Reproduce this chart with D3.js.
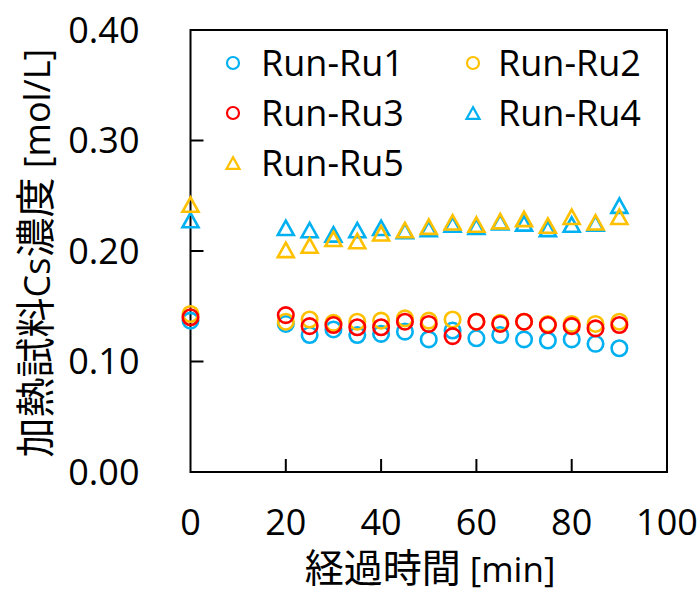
<!DOCTYPE html>
<html>
<head>
<meta charset="utf-8">
<script src="https://cdn.jsdelivr.net/npm/d3@7"></script>
<style>
  body { margin: 0; background: #fff; }
  svg { display: block; }
  text { font-family: "Open Sans", "Noto Sans CJK JP", sans-serif; fill: #000; }
</style>
</head>
<body>
<div id="chart"></div>
<script>
// Sampling times [min]
const times = [0, 20, 25, 30, 35, 40, 45, 50, 55, 60, 65, 70, 75, 80, 85, 90];

// Cs concentration [mol/L] per run
const ru1 = [0.137, 0.134, 0.124, 0.129, 0.124, 0.125, 0.127, 0.120, 0.128, 0.121, 0.124, 0.120, 0.119, 0.120, 0.116, 0.112];
const ru2 = [0.143, 0.136, 0.138, 0.135, 0.136, 0.137, 0.139, 0.137, 0.138, 0.136, 0.135, 0.136, 0.134, 0.134, 0.134, 0.136];
const ru3 = [0.140, 0.142, 0.132, 0.133, 0.131, 0.131, 0.136, 0.134, 0.123, 0.136, 0.134, 0.136, 0.133, 0.132, 0.130, 0.133];
const ru4 = [0.228, 0.221, 0.219, 0.215, 0.219, 0.221, 0.218, 0.220, 0.224, 0.222, 0.226, 0.225, 0.220, 0.224, 0.225, 0.241];
const ru5 = [0.242, 0.201, 0.205, 0.211, 0.209, 0.216, 0.219, 0.222, 0.226, 0.224, 0.227, 0.229, 0.223, 0.231, 0.226, 0.231];

const seriesNames = ["Run-Ru1", "Run-Ru2", "Run-Ru3", "Run-Ru4", "Run-Ru5"];
const xTicks = [0, 20, 40, 60, 80, 100];
const yTicks = [0, 0.1, 0.2, 0.3, 0.4];

const series = [
    { name: seriesNames[0], values: ru1, color: "#00B0F0", shape: "circle" },
    { name: seriesNames[1], values: ru2, color: "#FFC000", shape: "circle" },
    { name: seriesNames[2], values: ru3, color: "#FF0000", shape: "circle" },
    { name: seriesNames[3], values: ru4, color: "#00B0F0", shape: "triangle" },
    { name: seriesNames[4], values: ru5, color: "#FFC000", shape: "triangle" }
];

// Dimensions
const W = 699, H = 591;
const margin = { top: 30, right: 32, bottom: 119, left: 190.5 };
const width = W - margin.left - margin.right;
const height = H - margin.top - margin.bottom;

const svg = d3.select("#chart")
    .append("svg")
    .attr("width", W)
    .attr("height", H);

const g = svg.append("g")
    .attr("transform", `translate(${margin.left},${margin.top})`);

const x = d3.scaleLinear().domain([0, 100]).range([0, width]);
const y = d3.scaleLinear().domain([0, 0.4]).range([height, 0]);

// Inner ticks
g.selectAll(".ytick")
    .data(yTicks.slice(1, -1))
    .enter()
    .append("line")
    .attr("x1", 0).attr("x2", 13)
    .attr("y1", d => y(d)).attr("y2", d => y(d))
    .style("stroke", "#000").style("stroke-width", 2);

g.selectAll(".xtick")
    .data(xTicks.slice(1, -1))
    .enter()
    .append("line")
    .attr("x1", d => x(d)).attr("x2", d => x(d))
    .attr("y1", height).attr("y2", height - 13)
    .style("stroke", "#000").style("stroke-width", 2);

// Frame
g.append("rect")
    .attr("width", width)
    .attr("height", height)
    .style("fill", "none")
    .style("stroke", "#000")
    .style("stroke-width", 2);

// Tick labels
g.selectAll(".ylab")
    .data(yTicks)
    .enter()
    .append("text")
    .attr("x", -51)
    .attr("y", d => y(d))
    .attr("dy", "0.36em")
    .style("text-anchor", "end")
    .style("font-size", "36px")
    .text(d => d.toFixed(2));

g.selectAll(".xlab")
    .data(xTicks)
    .enter()
    .append("text")
    .attr("x", d => x(d))
    .attr("y", height + 63)
    .style("text-anchor", "middle")
    .style("font-size", "36px")
    .text(d => d);

// Axis titles
const yTitle = svg.append("text")
    .attr("transform", `translate(50,253) rotate(-90)`)
    .style("text-anchor", "middle")
    .style("font-size", "40px");
yTitle.append("tspan").style("font-family", "Noto Sans CJK JP").text("加熱試料");
yTitle.append("tspan").style("font-size", "36px").text("Cs");
yTitle.append("tspan").style("font-family", "Noto Sans CJK JP").text("濃度");
yTitle.append("tspan").style("font-size", "36px").text(" [mol/L]");

const xTitle = svg.append("text")
    .attr("x", 430)
    .attr("y", 582)
    .style("text-anchor", "middle")
    .style("font-size", "39px");
xTitle.append("tspan").style("font-family", "Noto Sans CJK JP").text("経過時間");
xTitle.append("tspan").style("font-size", "35px").text(" [min]");

// Marker path helper
function markerPath(shape, cx, cy, s) {
    if (shape === "circle") {
        const r = s / 2;
        return `M${cx - r},${cy}a${r},${r} 0 1,0 ${2 * r},0a${r},${r} 0 1,0 ${-2 * r},0Z`;
    }
    const w = s, h = s * 0.9;
    return `M${cx},${cy - h / 2}L${cx + w / 2},${cy + h / 2}L${cx - w / 2},${cy + h / 2}Z`;
}

// Data markers
series.forEach(s => {
    g.append("g")
        .selectAll("path")
        .data(s.values.map((v, i) => ({ t: times[i], v })))
        .enter()
        .append("path")
        .attr("d", d => markerPath(s.shape, x(d.t), y(d.v), s.shape === "circle" ? 15.5 : 16))
        .style("fill", "none")
        .style("stroke", s.color)
        .style("stroke-width", 2.6);
});

// Legend
const legendPos = [
    { mx: 233, tx: 261, y: 63 },
    { mx: 473, tx: 498, y: 63 },
    { mx: 233, tx: 261, y: 113 },
    { mx: 473, tx: 498, y: 113 },
    { mx: 233, tx: 261, y: 163 }
];
series.forEach((s, i) => {
    const p = legendPos[i];
    svg.append("path")
        .attr("d", markerPath(s.shape, p.mx, p.y, s.shape === "circle" ? 12 : 13))
        .style("fill", "none")
        .style("stroke", s.color)
        .style("stroke-width", 2.2);
    svg.append("text")
        .attr("x", p.tx)
        .attr("y", p.y)
        .attr("dy", "0.36em")
        .style("font-size", "36px")
        .text(s.name);
});
</script>
</body>
</html>
